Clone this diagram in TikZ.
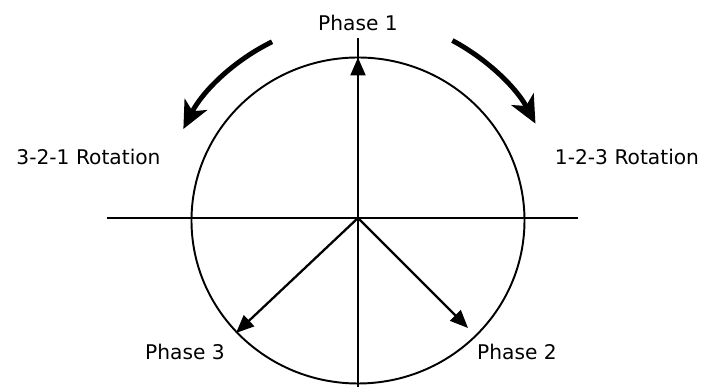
\documentclass[tikz,border=0pt]{standalone}
\usepackage{fontspec}
\setmainfont{DejaVu Sans}
\usetikzlibrary{arrows.meta}

\begin{document}
\begin{tikzpicture}[
    thinline/.style={line width=1.1pt},
    phasearrow/.style={line width=1.3pt, -{Triangle[length=0.36cm,width=0.3cm]}},
    rotarrow/.style={line width=2.8pt, -{Stealth[length=0.55cm,width=0.5cm,inset=0.15cm]}},
    lbl/.style={font=\fontsize{11.5}{13}\selectfont, anchor=base, inner sep=0pt}]
  \useasboundingbox (-7.16,-3.38) rectangle (6.94,4.36);
  % axes
  \coordinate (o) at (0,0);
  \coordinate (west) at (-5.02,0);
  \coordinate (east) at (4.40,0);
  \coordinate (north) at (0,3.6);
  \coordinate (south) at (0,-3.38);
  \draw[thinline] (0,-0.05) ellipse (3.33 and 3.26);
  \draw[thinline] (west) -- (east);
  \draw[thinline] (south) -- (north);
  % phase vectors
  \coordinate (p1) at (0,3.21);
  \coordinate (p2) at (2.2,-2.2);
  \coordinate (p3) at (-2.44,-2.3);
  \draw[phasearrow] (o) -- (p1);
  \draw[phasearrow] (o) -- (p2);
  \draw[phasearrow] (o) -- (p3);
  % rotation arrows
  \draw[rotarrow] (116:3.92) arc[start angle=116, end angle=153, radius=3.92];
  \draw[rotarrow] (62:4.02) arc[start angle=62, end angle=28, radius=4.02];
  % labels
  \node[lbl] (ph1) at (0,3.74) {Phase 1};
  \node[lbl] (ph2) at (3.18,-2.84) {Phase 2};
  \node[lbl] (ph3) at (-3.46,-2.84) {Phase 3};
  \node[lbl] (ccw) at (-5.39,1.06) {3-2-1 Rotation};
  \node[lbl] (cw) at (5.38,1.06) {1-2-3 Rotation};
\end{tikzpicture}
\end{document}
